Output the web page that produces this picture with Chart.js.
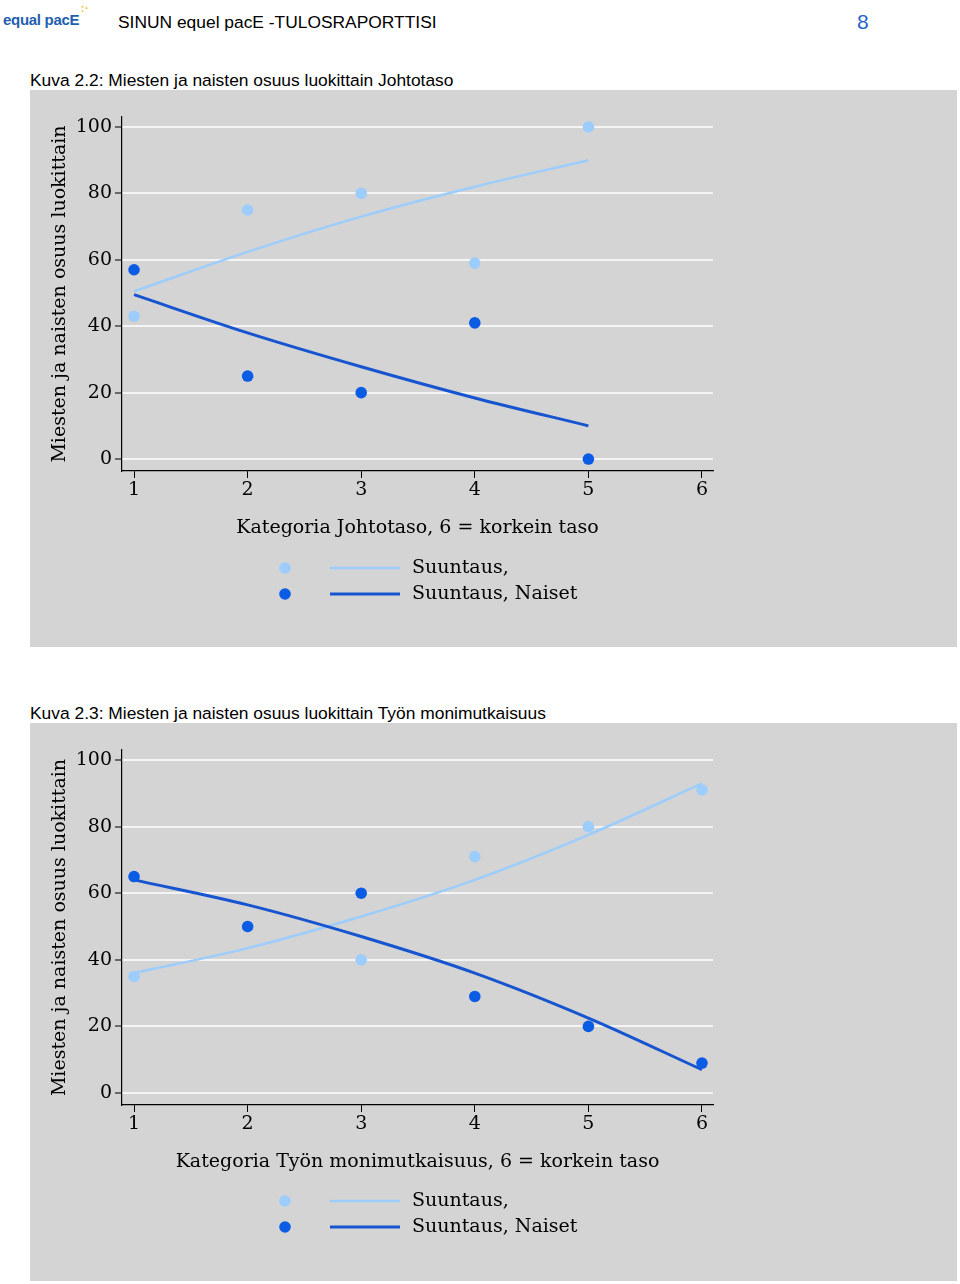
<!DOCTYPE html>
<html>
<head>
<meta charset="utf-8">
<script src="https://cdn.jsdelivr.net/npm/chart.js@4.4.0/dist/chart.umd.min.js"></script>
<style>
  body { margin: 0; background: #fff; width: 960px; height: 1284px; position: relative; font-family: "Liberation Sans", Arial, sans-serif; }
  .abs { position: absolute; white-space: nowrap; }
  .logo { left: 3px; top: 11px; font-size: 15px; font-weight: bold; color: #1f5fb0; letter-spacing: -0.3px; }
  .logo span { position: absolute; left: 78px; top: -8px; font-size: 10px; color: #e8b800; letter-spacing: 1px; }
  .head { left: 118px; top: 12px; font-size: 17.4px; color: #000; }
  .page { left: 857px; top: 10px; font-size: 21px; color: #2a64c8; }
  .cap { left: 30px; font-size: 17.4px; color: #000; }
  .panel { position: absolute; left: 30px; width: 927px; background: #d4d4d4; }
</style>
</head>
<body>
<div class="abs logo">equal pacE<span>:·</span></div>
<div class="abs head">SINUN equel pacE -TULOSRAPORTTISI</div>
<div class="abs page">8</div>

<div class="abs cap" style="top:70px">Kuva 2.2: Miesten ja naisten osuus luokittain Johtotaso</div>
<div class="panel" style="top:90px;height:557px"><canvas id="c1" width="927" height="557"></canvas></div>

<div class="abs cap" style="top:703px">Kuva 2.3: Miesten ja naisten osuus luokittain Työn monimutkaisuus</div>
<div class="panel" style="top:723px;height:558px"><canvas id="c2" width="927" height="558"></canvas></div>

<script>
// --- DATA ---
const xTicks = [1, 2, 3, 4, 5, 6];
const yTicks = [0, 20, 40, 60, 80, 100];
const legendLabels = ['Suuntaus,', 'Suuntaus, Naiset'];
const yTitle = 'Miesten ja naisten osuus luokittain';

// Kuva 2.2 Johtotaso
const johtoX = [1, 2, 3, 4, 5];
const johtoMiehet = [43, 75, 80, 59, 100];
const johtoNaiset = [57, 25, 20, 41, 0];
const johtoTrendMiehet = [50.5, 62.4, 73, 82, 90];
const johtoTrendNaiset = [49.5, 38, 27.8, 18.4, 10];

// Kuva 2.3 Työn monimutkaisuus
const tyoX = [1, 2, 3, 4, 5, 6];
const tyoMiehet = [35, 50, 40, 71, 80, 91];
const tyoNaiset = [65, 50, 60, 29, 20, 9];
const tyoTrendMiehet = [36, 43.5, 53, 64, 77.5, 93];
const tyoTrendNaiset = [64, 56.5, 47, 36, 22.5, 7];

const LIGHT = '#9ccdfc';
const DARK_DOT = '#0b5ce4';
const DARK_LINE = '#1654d0';
const SERIF = '"DejaVu Serif", serif';

const pts = (xs, ys) => xs.map((x, i) => ({ x: x, y: ys[i] }));

// legend drawn under the x title, like the Stata original
const stataLegend = {
    id: 'stataLegend',
    afterDraw(chart) {
        const ctx = chart.ctx;
        const rows = [{ dot: LIGHT, line: LIGHT, w: 2.5 }, { dot: DARK_DOT, line: DARK_LINE, w: 3 }];
        ctx.save();
        ctx.font = '19px ' + SERIF;
        ctx.textBaseline = 'middle';
        rows.forEach((r, i) => {
            const y = 478 + i * 26;
            ctx.fillStyle = r.dot;
            ctx.beginPath(); ctx.arc(255, y, 5.8, 0, Math.PI * 2); ctx.fill();
            ctx.strokeStyle = r.line; ctx.lineWidth = r.w;
            ctx.beginPath(); ctx.moveTo(300, y); ctx.lineTo(370, y); ctx.stroke();
            ctx.fillStyle = '#000';
            ctx.fillText(legendLabels[i], 382, y);
        });
        ctx.restore();
    }
};

function makeChart(id, xs, men, women, trendMen, trendWomen, xTitle) {
    new Chart(document.getElementById(id), {
        data: {
            datasets: [
                { type: 'line', data: pts(xs, trendMen), borderColor: LIGHT, borderWidth: 2.5, pointRadius: 0, tension: 0.4, cubicInterpolationMode: 'monotone', order: 3 },
                { type: 'line', data: pts(xs, trendWomen), borderColor: DARK_LINE, borderWidth: 3, pointRadius: 0, tension: 0.4, cubicInterpolationMode: 'monotone', order: 2 },
                { type: 'scatter', data: pts(xs, men), backgroundColor: LIGHT, borderWidth: 0, pointRadius: 5.8, order: 1 },
                { type: 'scatter', data: pts(xs, women), backgroundColor: DARK_DOT, borderWidth: 0, pointRadius: 5.8, order: 0 }
            ]
        },
        options: {
            responsive: false, animation: false,
            layout: { padding: { left: 14.6, right: 244, top: 27, bottom: 103.6 } },
            plugins: { legend: { display: false }, tooltip: { enabled: false } },
            scales: {
                x: {
                    type: 'linear', min: 0.894, max: 6.097,
                    afterBuildTicks: s => { s.ticks = xTicks.map(v => ({ value: v })); },
                    afterFit: s => { s.height = 72.4; },
                    grid: { drawOnChartArea: false, tickColor: '#000', tickLength: 7, tickWidth: 1 },
                    border: { color: '#000', width: 1.2 },
                    ticks: { color: '#000', font: { family: SERIF, size: 19 }, padding: 1 },
                    title: { display: true, text: xTitle, color: '#000', font: { family: SERIF, size: 19 }, padding: 4 }
                },
                y: {
                    type: 'linear', min: -3.6, max: 103,
                    afterBuildTicks: s => { s.ticks = yTicks.map(v => ({ value: v })); },
                    afterFit: s => { s.width = 77.4; },
                    grid: { color: '#f4f4f4', lineWidth: 2, tickColor: '#000', tickLength: 7, tickWidth: 1 },
                    border: { color: '#000', width: 1.2 },
                    ticks: { color: '#000', font: { family: SERIF, size: 19 }, padding: 3 },
                    title: { display: true, text: yTitle, color: '#000', font: { family: SERIF, size: 19 }, padding: 4 }
                }
            }
        },
        plugins: [stataLegend]
    });
}

makeChart('c1', johtoX, johtoMiehet, johtoNaiset, johtoTrendMiehet, johtoTrendNaiset, 'Kategoria Johtotaso, 6 = korkein taso');
makeChart('c2', tyoX, tyoMiehet, tyoNaiset, tyoTrendMiehet, tyoTrendNaiset, 'Kategoria Työn monimutkaisuus, 6 = korkein taso');
</script>
</body>
</html>
